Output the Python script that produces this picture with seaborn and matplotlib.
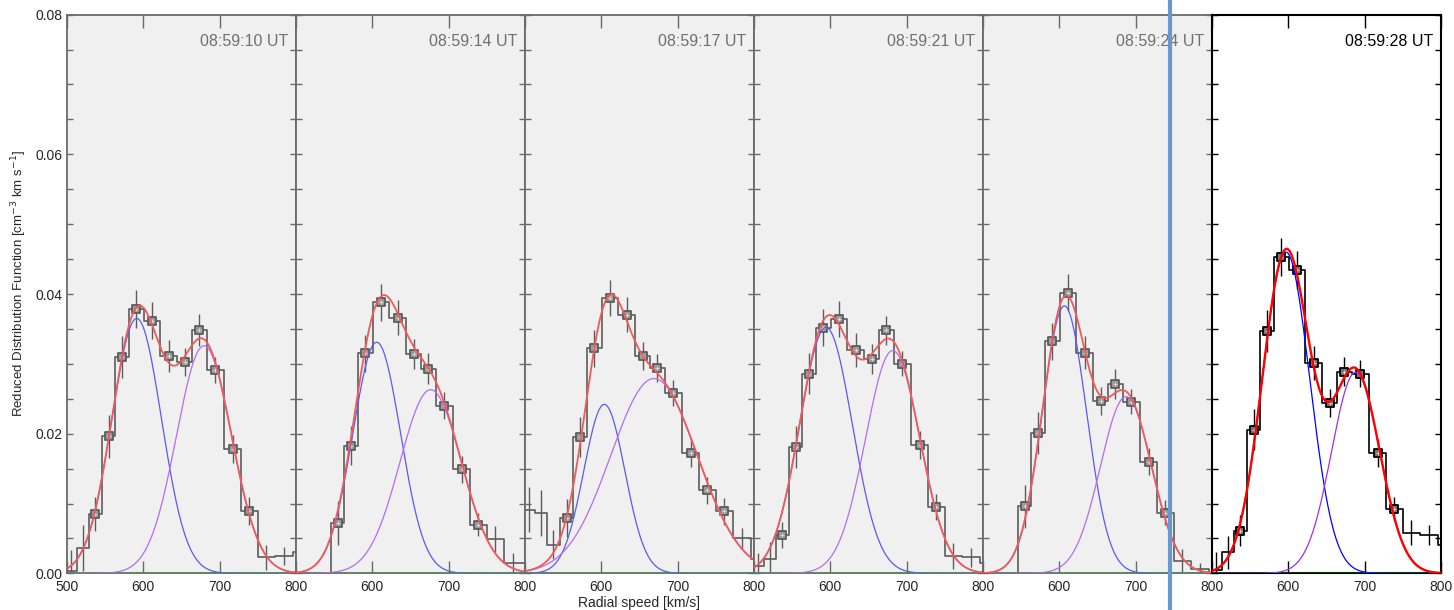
import numpy as np
import pandas as pd
import matplotlib
matplotlib.use("Agg")
import matplotlib.pyplot as plt
from matplotlib.lines import Line2D
from matplotlib.ticker import MultipleLocator, FormatStrFormatter
import seaborn as sns

sns.set_style("ticks")
plt.rcParams['font.family'] = ['Liberation Sans', 'DejaVu Sans']

# histogram bin centres [km/s]
speed_bins = [489, 505, 521, 537, 555, 572, 591, 611, 633, 654, 673, 694, 717, 739, 761, 784, 807]

times = ['08:59:10 UT', '08:59:14 UT', '08:59:17 UT', '08:59:21 UT', '08:59:24 UT', '08:59:28 UT']

# reduced distribution function per bin, and its error
rdf_0910 = [0.0003, 0.0003, 0.0036, 0.0085, 0.0196, 0.0310, 0.0379, 0.0362, 0.0311, 0.0303, 0.0349, 0.0291, 0.0178, 0.0089, 0.0023, 0.0025, 0.0031]
err_0910 = [0.0, 0.0030, 0.0033, 0.0025, 0.0031, 0.0030, 0.0027, 0.0027, 0.0023, 0.0020, 0.0023, 0.0019, 0.0020, 0.0020, 0.0018, 0.0013, 0.0013]
rdf_0914 = [0.0, 0.0, 0.0, 0.0, 0.0072, 0.0183, 0.0315, 0.0388, 0.0366, 0.0314, 0.0293, 0.0240, 0.0149, 0.0070, 0.0049, 0.0015, 0.0015]
err_0914 = [0.0, 0.0, 0.0, 0.0, 0.0031, 0.0028, 0.0027, 0.0027, 0.0025, 0.0021, 0.0022, 0.0019, 0.0019, 0.0017, 0.0019, 0.0014, 0.0014]
rdf_0917 = [0.0090, 0.0091, 0.0086, 0.0041, 0.0079, 0.0195, 0.0322, 0.0394, 0.0370, 0.0311, 0.0294, 0.0258, 0.0173, 0.0119, 0.0089, 0.0050, 0.0020]
err_0917 = [0.0030, 0.0032, 0.0033, 0.0021, 0.0027, 0.0029, 0.0026, 0.0026, 0.0025, 0.0020, 0.0020, 0.0019, 0.0020, 0.0019, 0.0019, 0.0015, 0.0010]
rdf_0921 = [0.0010, 0.0011, 0.0020, 0.0055, 0.0181, 0.0286, 0.0352, 0.0364, 0.0320, 0.0307, 0.0348, 0.0300, 0.0184, 0.0095, 0.0025, 0.0023, 0.0015]
err_0921 = [0.0, 0.0018, 0.0025, 0.0019, 0.0030, 0.0029, 0.0027, 0.0026, 0.0024, 0.0021, 0.0021, 0.0018, 0.0020, 0.0018, 0.0018, 0.0014, 0.0012]
rdf_0924 = [0.0, 0.0, 0.0, 0.0, 0.0096, 0.0201, 0.0332, 0.0402, 0.0316, 0.0247, 0.0271, 0.0246, 0.0160, 0.0087, 0.0018, 0.0007, 0.0]
err_0924 = [0.0, 0.0, 0.0, 0.0, 0.0031, 0.0030, 0.0027, 0.0027, 0.0024, 0.0020, 0.0021, 0.0018, 0.0019, 0.0018, 0.0017, 0.0008, 0.0]
rdf_0928 = [0.0005, 0.0005, 0.0030, 0.0061, 0.0206, 0.0347, 0.0453, 0.0434, 0.0301, 0.0244, 0.0289, 0.0286, 0.0173, 0.0092, 0.0058, 0.0055, 0.0040]
err_0928 = [0.0, 0.0026, 0.0023, 0.0022, 0.0030, 0.0030, 0.0027, 0.0027, 0.0024, 0.0020, 0.0021, 0.0019, 0.0020, 0.0017, 0.0018, 0.0015, 0.0012]

# first / last bin used in the fit (square markers)
fit_first = [3, 4, 4, 3, 4, 3]
fit_last = [13, 13, 14, 13, 13, 13]

# gaussian fit components: core (blue) and beam (purple)
core_amp = [0.0365, 0.0331, 0.0242, 0.0352, 0.0383, 0.0460]
core_v = [591.3, 605.7, 603.9, 594.3, 606.6, 596.9]
core_w = [32.5, 31.2, 26.9, 34.5, 28.9, 31.1]
beam_amp = [0.0326, 0.0263, 0.0279, 0.0319, 0.0253, 0.0288]
beam_v = [679.5, 676.4, 669.0, 681.7, 687.3, 688.2]
beam_w = [36.0, 40.2, 56.6, 35.5, 33.5, 31.6]
# small third component above 800 km/s (green)
tail_amp = [0.0005, 0.0005, 0.0005, 0.0005, 0.0005, 0.0005]
tail_v = [830, 830, 830, 830, 830, 830]
tail_w = [12, 12, 12, 12, 12, 12]

rdfs = [rdf_0910, rdf_0914, rdf_0917, rdf_0921, rdf_0924, rdf_0928]
errs = [err_0910, err_0914, err_0917, err_0921, err_0924, err_0928]


def gauss(v, a, c, w):
    return a * np.exp(-0.5 * ((v - c) / w) ** 2)


W, H = 1454, 610
fig = plt.figure(figsize=(W / 100, H / 100), dpi=100)
lefts = [67, 296, 525, 754, 983, 1212]
pw = 229
v = np.linspace(485, 815, 400)
bins = np.array(speed_bins)

for i in range(6):
    last = i == 5
    fg = 'black' if last else '#5c5c5c'
    spine = 'black' if last else '#6a6a6a'
    red = '#ff0000' if last else '#f05a5a'
    blue = '#0000ff' if last else '#5a5af2'
    purple = '#9b30f0' if last else '#b46cf0'

    ax = fig.add_axes([lefts[i] / W, (H - 573.4) / H, pw / W, 558.8 / H])
    ax.set_facecolor('white' if last else '#f0f0f0')

    df = pd.DataFrame({'speed': bins, 'rdf': rdfs[i], 'err': errs[i]})

    # step histogram
    sns.lineplot(data=df, x='speed', y='rdf', ax=ax, color=fg, lw=1.2,
                 drawstyle='steps-mid', estimator=None, sort=False, zorder=2)
    ax.vlines(df['speed'], df['rdf'] - df['err'], df['rdf'] + df['err'],
              colors=fg, lw=1.0, zorder=2)

    fit = df.iloc[fit_first[i]:fit_last[i] + 1]
    sns.scatterplot(data=fit, x='speed', y='rdf', ax=ax, marker='s', s=28,
                    facecolor='#9a9a9a' if not last else '#777777',
                    edgecolor=fg, linewidth=1.3, zorder=3)
    sns.scatterplot(data=fit, x='speed', y='rdf', ax=ax, marker='+', s=8,
                    color='#e0e0e0', linewidth=0.6, zorder=3)

    core = gauss(v, core_amp[i], core_v[i], core_w[i])
    beam = gauss(v, beam_amp[i], beam_v[i], beam_w[i])
    tail = gauss(v, tail_amp[i], tail_v[i], tail_w[i])
    sns.lineplot(x=v, y=core, ax=ax, color=blue, lw=0.9, zorder=4)
    sns.lineplot(x=v, y=beam, ax=ax, color=purple, lw=0.9, zorder=4)
    sns.lineplot(x=v, y=tail, ax=ax, color='#33aa33', lw=0.9, zorder=4)
    sns.lineplot(x=v, y=core + beam + tail, ax=ax, color=red,
                 lw=1.7 if last else 1.3, zorder=5)

    ax.set_xlim(500, 800)
    ax.set_ylim(0, 0.08)
    ax.set_xlabel('')
    ax.set_ylabel('')
    ax.set_xticks([500, 600, 700, 800])
    if i > 0:
        ax.set_xticklabels(['', '600', '700', '800'])
    ax.yaxis.set_major_locator(MultipleLocator(0.02))
    ax.yaxis.set_minor_locator(MultipleLocator(0.005))
    ax.yaxis.set_major_formatter(FormatStrFormatter('%.2f'))
    ax.tick_params(axis='x', which='major', direction='in', top=True, bottom=True,
                   length=9, width=1.0, color=spine, labelsize=10, pad=5)
    ax.tick_params(axis='y', which='both', direction='in', left=True, right=True,
                   length=4, width=1.0, color=spine, labelsize=10,
                   labelleft=(i == 0))
    for s in ax.spines.values():
        s.set_color(spine)
        s.set_linewidth(1.5 if last else 1.3)

    ax.text(0.965, 0.952, times[i], transform=ax.transAxes, ha='right',
            va='center', fontsize=11.5, color='black' if last else '#707070')

fig.text(639 / W, 1 - 603 / H, 'Radial speed [km/s]', ha='center', va='center',
         fontsize=10)
fig.text(19 / W, 1 - 283 / H, 'Reduced Distribution Function [cm$^{-3}$ km s$^{-1}$]',
         rotation=90, ha='center', va='center', fontsize=9.5)

fig.add_artist(Line2D([1170 / W, 1170 / W], [0, 1], color='#6699cc', lw=3))

fig.savefig('out.png', dpi=100)
